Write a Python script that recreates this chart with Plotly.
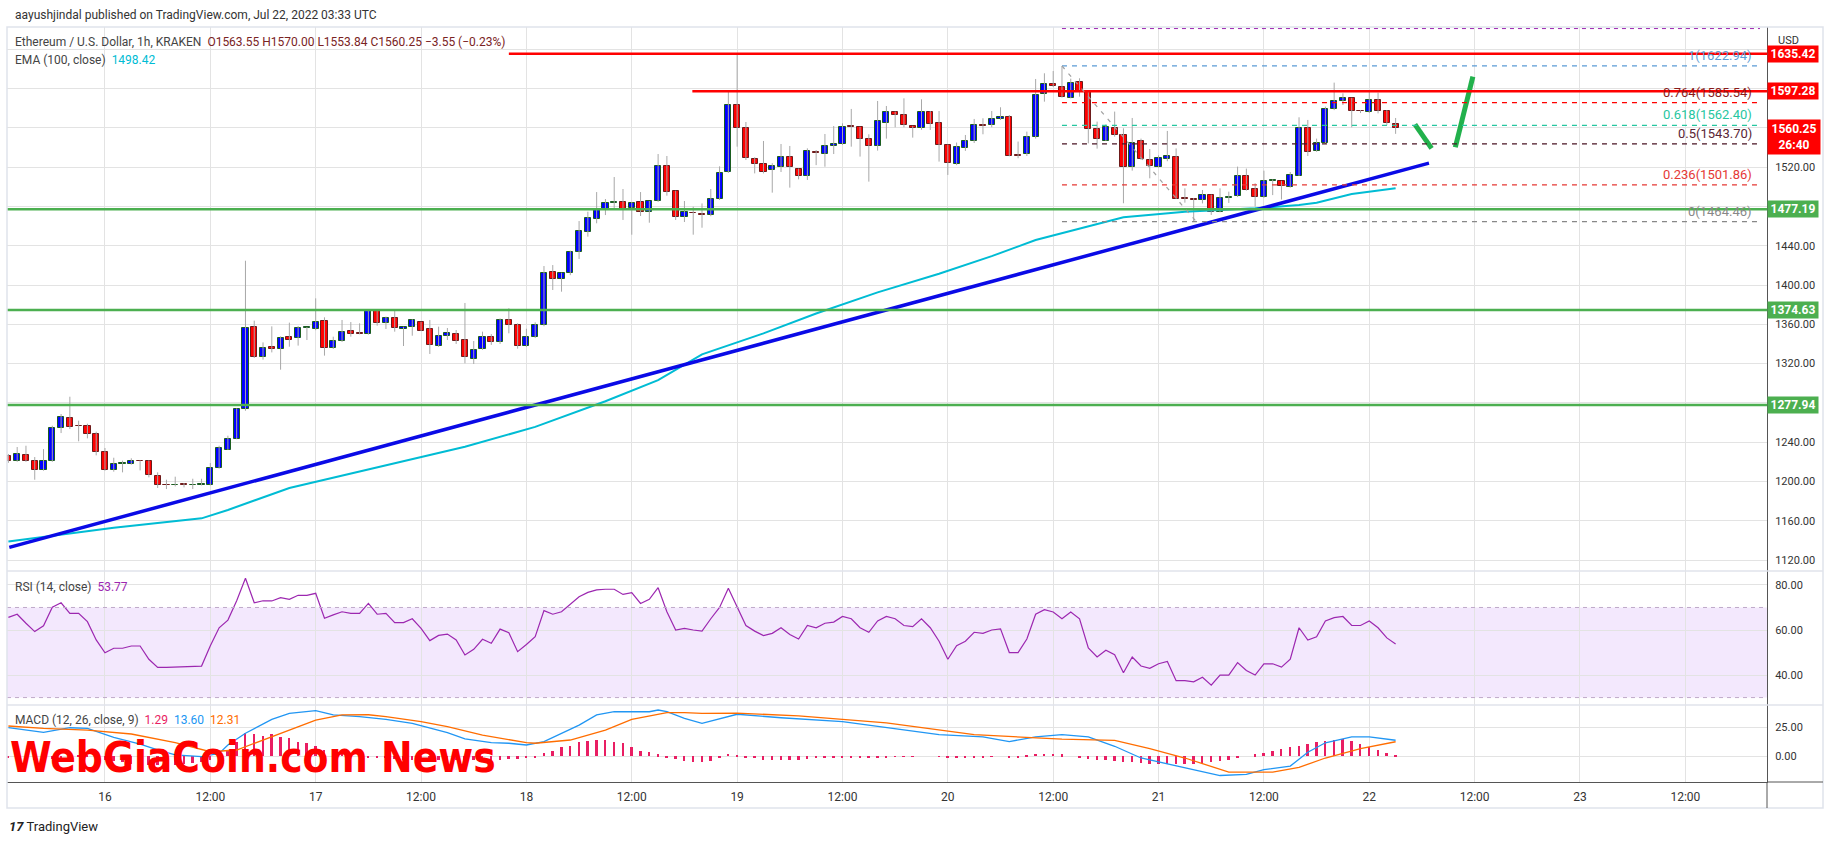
import plotly.graph_objects as go
from plotly.subplots import make_subplots
from datetime import datetime, timedelta

# ETH/USD 1h (Kraken), first visible candle 2022-07-15 13:00 UTC
first_candle = datetime(2022, 7, 15, 13)

opens = [1226.3, 1220.5, 1226.9, 1220.8, 1211.7, 1220.8, 1254.1, 1264.6, 1256.5, 1256.5,
         1248.3, 1230.0, 1211.7, 1217.8, 1217.8, 1220.8, 1220.8, 1205.6, 1196.4, 1196.0,
         1196.6, 1196.0, 1196.2, 1196.1, 1213.7, 1232.4, 1243.2, 1273.8, 1357.2, 1326.7,
         1337.2, 1334.5, 1346.7, 1345.7, 1356.4, 1354.9, 1363.0, 1336.2, 1342.7, 1352.8,
         1350.8, 1349.8, 1373.5, 1361.0, 1366.1, 1355.0, 1357.0, 1362.0, 1354.9, 1337.6,
         1348.4, 1349.8, 1344.0, 1325.0, 1335.0, 1347.1, 1342.3, 1364.4, 1359.3, 1337.6,
         1346.7, 1358.9, 1412.9, 1405.8, 1411.9, 1433.2, 1453.6, 1466.8, 1476.7, 1483.5,
         1484.8, 1478.7, 1484.8, 1474.6, 1485.1, 1520.8, 1495.3, 1468.9, 1473.2, 1472.0,
         1470.9, 1487.2, 1514.7, 1582.9, 1560.1, 1527.9, 1523.5, 1516.7, 1519.8, 1529.9,
         1517.7, 1510.6, 1535.0, 1533.0, 1541.8, 1543.2, 1561.5, 1560.5, 1548.3, 1541.2,
         1564.6, 1575.8, 1572.7, 1561.5, 1559.5, 1575.8, 1564.6, 1542.2, 1522.9, 1539.1,
         1546.3, 1562.3, 1562.5, 1568.7, 1570.7, 1531.5, 1533.0, 1550.3, 1594.1, 1604.3,
         1601.9, 1590.0, 1607.0, 1597.5, 1558.5, 1547.0, 1559.5, 1552.4, 1520.5, 1546.6,
         1527.3, 1520.5, 1528.0, 1530.7, 1488.2, 1487.5, 1486.2, 1491.6, 1474.7, 1489.0,
         1490.3, 1511.0, 1497.4, 1489.3, 1506.0, 1505.5, 1499.4, 1511.3, 1559.5, 1536.4,
         1544.2, 1578.8, 1587.6, 1590.0, 1576.8, 1575.8, 1588.0, 1577.1, 1563.55]
highs = [1228.0, 1235.1, 1236.4, 1224.9, 1233.0, 1256.8, 1268.7, 1286.3, 1261.9, 1258.8,
         1250.7, 1234.1, 1224.2, 1221.2, 1223.6, 1221.5, 1221.5, 1209.3, 1201.8, 1204.9,
         1198.4, 1202.8, 1202.8, 1218.8, 1236.4, 1246.6, 1274.5, 1424.7, 1363.7, 1341.6,
         1357.9, 1347.7, 1361.7, 1358.3, 1357.2, 1386.4, 1367.1, 1347.4, 1364.4, 1362.3,
         1361.0, 1374.0, 1374.0, 1367.8, 1373.5, 1357.5, 1365.1, 1362.5, 1364.4, 1357.6,
         1356.2, 1354.2, 1381.7, 1343.0, 1352.5, 1350.0, 1366.0, 1376.3, 1361.0, 1355.5,
         1362.0, 1419.3, 1420.3, 1412.5, 1435.0, 1465.1, 1474.6, 1494.6, 1487.5, 1509.9,
         1497.7, 1484.5, 1494.6, 1485.5, 1533.3, 1531.3, 1496.0, 1485.5, 1479.7, 1483.0,
         1497.7, 1520.8, 1597.4, 1636.0, 1565.9, 1530.0, 1546.6, 1524.0, 1543.5, 1541.5,
         1518.5, 1539.1, 1537.4, 1553.7, 1561.8, 1564.5, 1579.2, 1561.0, 1553.4, 1587.3,
         1582.2, 1576.5, 1590.0, 1562.0, 1589.0, 1577.1, 1577.1, 1543.0, 1545.0, 1552.7,
         1569.0, 1569.7, 1577.1, 1580.9, 1573.0, 1546.0, 1556.1, 1609.7, 1615.5, 1617.8,
         1622.94, 1610.0, 1610.4, 1598.0, 1566.3, 1563.5, 1576.5, 1559.5, 1570.0, 1549.0,
         1538.4, 1532.0, 1556.8, 1539.0, 1498.4, 1488.5, 1496.7, 1492.0, 1498.4, 1495.0,
         1520.5, 1518.5, 1503.5, 1516.4, 1507.5, 1506.0, 1515.0, 1570.7, 1568.0, 1549.0,
         1581.5, 1606.0, 1595.1, 1590.5, 1578.0, 1596.8, 1595.8, 1578.0, 1570.00]
lows = [1219.0, 1220.0, 1220.0, 1201.8, 1211.0, 1220.0, 1249.3, 1253.4, 1240.9, 1243.9,
        1226.6, 1211.0, 1210.0, 1209.3, 1217.1, 1211.3, 1204.2, 1193.4, 1192.3, 1195.0,
        1194.0, 1192.3, 1196.0, 1196.0, 1213.0, 1232.0, 1243.0, 1272.0, 1325.7, 1324.0,
        1331.4, 1313.8, 1337.2, 1338.3, 1344.0, 1354.0, 1328.1, 1334.9, 1342.0, 1347.4,
        1349.8, 1349.5, 1358.6, 1355.2, 1352.5, 1337.9, 1348.4, 1353.0, 1329.8, 1337.0,
        1344.0, 1340.0, 1320.3, 1319.6, 1334.0, 1339.0, 1340.0, 1350.8, 1335.2, 1337.0,
        1346.0, 1358.0, 1394.9, 1393.2, 1410.0, 1426.5, 1449.2, 1462.8, 1471.2, 1477.0,
        1466.2, 1451.2, 1470.2, 1463.4, 1484.5, 1490.9, 1466.2, 1464.1, 1451.2, 1458.3,
        1470.0, 1486.5, 1514.0, 1540.8, 1527.2, 1513.6, 1513.6, 1494.0, 1515.0, 1499.1,
        1507.5, 1506.9, 1522.0, 1520.4, 1533.3, 1542.5, 1540.8, 1530.7, 1505.2, 1536.8,
        1549.0, 1560.5, 1560.5, 1550.0, 1558.0, 1557.8, 1525.6, 1512.0, 1522.0, 1536.5,
        1544.5, 1553.4, 1560.5, 1568.0, 1531.0, 1529.0, 1531.3, 1549.0, 1586.6, 1601.5,
        1590.7, 1590.0, 1591.7, 1544.2, 1538.8, 1546.5, 1551.0, 1483.2, 1516.4, 1527.5,
        1508.6, 1519.5, 1526.0, 1487.5, 1483.8, 1464.46, 1483.0, 1471.3, 1474.0, 1483.5,
        1489.5, 1496.0, 1479.8, 1488.5, 1491.5, 1487.0, 1499.0, 1511.0, 1531.3, 1535.5,
        1543.5, 1578.0, 1583.2, 1560.5, 1575.0, 1575.0, 1574.7, 1563.0, 1553.84]
closes = [1220.5, 1227.9, 1220.8, 1211.7, 1220.8, 1254.1, 1265.6, 1255.4, 1256.1, 1248.3,
          1230.0, 1211.7, 1217.8, 1218.1, 1220.8, 1220.5, 1206.2, 1196.1, 1196.0, 1196.3,
          1196.3, 1196.3, 1197.1, 1213.7, 1234.1, 1243.2, 1273.8, 1356.2, 1326.7, 1335.8,
          1334.5, 1346.0, 1343.7, 1355.9, 1356.8, 1362.7, 1335.5, 1342.7, 1351.8, 1349.8,
          1350.2, 1373.5, 1361.0, 1366.1, 1355.9, 1357.0, 1364.4, 1353.5, 1339.3, 1347.7,
          1351.1, 1343.3, 1327.1, 1333.8, 1346.7, 1342.3, 1364.0, 1359.6, 1337.6, 1346.7,
          1358.9, 1411.9, 1406.4, 1411.9, 1433.2, 1454.6, 1467.8, 1476.7, 1483.1, 1483.8,
          1477.0, 1483.8, 1474.6, 1485.1, 1520.8, 1495.0, 1469.5, 1473.9, 1472.9, 1471.6,
          1487.2, 1513.6, 1582.9, 1560.1, 1529.6, 1522.8, 1515.3, 1520.8, 1529.9, 1519.8,
          1510.6, 1536.0, 1534.4, 1541.1, 1543.8, 1560.5, 1561.0, 1548.3, 1541.8, 1566.6,
          1575.8, 1572.7, 1562.5, 1559.5, 1575.8, 1563.6, 1542.2, 1523.9, 1540.1, 1546.3,
          1562.5, 1561.9, 1568.7, 1570.7, 1531.7, 1531.3, 1550.3, 1593.1, 1604.3, 1602.2,
          1591.7, 1605.3, 1597.8, 1558.5, 1548.3, 1560.5, 1552.4, 1520.5, 1544.9, 1528.0,
          1521.2, 1529.0, 1531.0, 1487.9, 1487.9, 1486.2, 1491.6, 1474.7, 1488.2, 1489.3,
          1510.6, 1496.7, 1489.3, 1505.5, 1506.2, 1501.1, 1512.0, 1559.5, 1535.7, 1544.2,
          1578.8, 1587.3, 1590.0, 1576.8, 1576.6, 1588.0, 1577.5, 1564.6, 1560.25]
change_text = "−3.55 (−0.23%)"

# EMA 100 read at a few candles (index, value)
ema_idx = [0, 12, 22, 25, 32, 39, 52, 60, 68, 74, 79, 86, 92, 99, 106, 112, 117,
           127, 134, 142, 147, 149, 153, 158]
ema_vals = [1139.0, 1153.0, 1162.5, 1171.0, 1193.4, 1208.0, 1235.3, 1255.6, 1281.7,
            1303.2, 1329.4, 1350.8, 1371.0, 1392.5, 1411.5, 1429.4, 1445.8, 1469.0,
            1474.6, 1478.0, 1481.4, 1483.8, 1492.6, 1498.42]

# RSI 14, one value per candle
rsi_vals = [65.6, 67.0, 63.0, 59.3, 61.9, 70.1, 72.1, 67.4, 67.4, 63.7,
            55.6, 49.9, 51.9, 51.9, 52.9, 52.9, 47.0, 43.4, 43.4, 43.6,
            43.6, 43.8, 44.0, 53.0, 61.0, 64.4, 73.0, 83.0, 72.1, 73.0,
            72.9, 74.4, 73.6, 75.4, 75.4, 76.3, 65.2, 66.7, 68.1, 67.4,
            67.4, 71.8, 67.0, 67.4, 63.3, 63.3, 65.0, 60.7, 55.3, 57.6,
            58.2, 55.6, 48.9, 51.4, 55.9, 54.1, 60.4, 58.8, 50.4, 53.6,
            57.0, 68.6, 67.0, 68.1, 71.4, 74.8, 76.7, 77.8, 78.1, 78.1,
            75.8, 76.6, 71.8, 73.6, 78.8, 68.1, 60.0, 60.7, 60.0, 59.5,
            65.0, 70.0, 78.5, 70.0, 62.0, 59.5, 57.5, 58.5, 61.0, 58.0,
            56.0, 62.0, 61.0, 63.0, 63.5, 66.0, 65.0, 61.0, 59.0, 64.0,
            66.0, 65.0, 62.0, 61.5, 65.0, 61.0, 55.0, 47.0, 53.0, 55.0,
            59.0, 58.5, 60.0, 60.5, 50.0, 50.0, 56.0, 67.0, 69.0, 68.0,
            65.0, 68.0, 65.0, 52.0, 48.0, 51.0, 49.0, 41.0, 48.0, 44.0,
            43.0, 45.0, 46.0, 37.5, 37.5, 37.0, 39.0, 35.5, 40.0, 40.0,
            45.5, 42.0, 40.0, 45.0, 45.0, 43.5, 47.0, 61.0, 55.5, 57.0,
            64.0, 65.5, 66.0, 62.0, 62.0, 64.0, 61.0, 56.5, 53.77]

# MACD (12, 26, 9) lines read at a few candles
macd_idx = [0, 4, 7, 9, 12, 15, 17, 19, 22, 24, 25, 27, 30, 32, 35, 37, 40, 43, 46, 48,
            50, 52, 55, 57, 59, 61, 63, 65, 67, 69, 71, 73, 74, 75, 77, 79, 83, 88, 95,
            100, 106, 111, 114, 117, 120, 123, 126, 129, 133, 136, 138, 141, 143, 146,
            148, 150, 153, 155, 158]
macd_vals = [24.4, 20.4, 24.4, 23.9, 16.1, 10.3, 5.2, 0.9, -0.6, 2.3, 9.5, 19.6, 31.6,
             36.8, 39.1, 35.4, 33.9, 31.6, 28.2, 23.9, 20.1, 14.7, 11.5, 11.0, 9.5, 12.4,
             19.6, 26.7, 35.4, 38.2, 38.2, 38.2, 39.7, 38.2, 32.5, 28.1, 36.0, 33.0, 29.6,
             24.5, 18.5, 16.5, 12.5, 16.5, 18.5, 16.5, 8.4, -1.7, -8.7, -13.8, -16.8,
             -15.8, -11.8, -8.7, 3.3, 11.4, 16.5, 16.5, 13.60]
signal_idx = [0, 4, 9, 14, 19, 23, 26, 30, 35, 38, 41, 43, 47, 50, 54, 59, 60, 64, 68,
              71, 75, 77, 79, 83, 90, 100, 110, 120, 126, 130, 134, 139, 144, 147, 150,
              154, 158]
signal_vals = [25.9, 23.9, 22.4, 19.0, 11.5, 3.7, 5.2, 16.7, 31.0, 35.4, 35.6, 33.9, 29.6,
               25.3, 18.1, 11.5, 11.0, 13.8, 22.4, 31.6, 37.4, 37.4, 36.8, 37.0, 34.6,
               28.6, 18.5, 14.5, 13.5, 6.4, -1.7, -13.8, -13.8, -9.8, -1.7, 6.4, 12.31]
hist_vals = [-1.5, -2, -2.5, -3, -3.5, -2.5, -1, 0.5, 1, 0.5, -1.5, -3,
             -4.5, -5.5, -6.5, -7, -7.5, -8, -8, -7.5, -7, -6, -5, -3.5, -1.5,
             5, 12, 19.5, 18.7, 17.5, 19, 16.7, 15.2, 12.4, 11, 8.6,
             5, 3, 2, 1, 0,
             -1, -1.5, -2, -2.5, -3, -3, -3.5, -3.5, -3.5, -3.5, -3.5, -3.5, -3, -3, -3, -3,
             -2.5, -2.5, -2, -1,
             2.3, 4.6, 7.5, 8.6, 12.4, 13.2, 13.8, 13.8, 12.4, 11.5, 8, 4.6, 3.2, 1.7,
             -1.1, -2.9, -4.6, -5.5,
             -5, -4, -2, 2, 1, -1, -2, -3, -3.5, -3, -3, -3,
             -2.5, -2, -2, -1.5, -1, -1, -1.5, -2, -1.5, -1, -0.5, -0.5, -0.5, 0, 0, -0.5,
             -1.5, -2, -2, -1.5, -1, -0.5, 0, -1, -1, 1, 2, 2, 2, 1.5, 0, -1.5, -2.5, -3, -3.5,
             -4, -5, -5.5, -6, -6.5, -6.5, -6.5, -7, -7, -6.5, -6, -5.5, -4.5, -3, -1.5,
             0, 1.5, 3, 4.5, 6, 7.5, 9, 10.5, 12, 13, 14, 14.5, 13, 10.5, 8, 5.5, 3, 1.29]

# drawn levels
support_levels = [1477.19, 1374.63, 1277.94]
resistance_levels = [1635.42, 1597.28]
resistance_start = [57, 77.9]            # candle index where each line starts
fib_ratios = ["1", "0.764", "0.618", "0.5", "0.236", "0"]
fib_prices = [1622.94, 1585.54, 1562.40, 1543.70, 1501.86, 1464.46]
fib_colors = ["#5b9bd5", "#ff0000", "#26c6a0", "#4a1525", "#e53935", "#888888"]
fib_text_colors = ["#5b9bd5", "#8b1a1a", "#26c6a0", "#5a2535", "#e53935", "#888888"]
fib_start, fib_end = 120, 199.5
trend_pts = [(0.1, 1133.0), (161.8, 1524.0)]
arrow_down = [(160.2, 1563.5), (162.1, 1539.1)]
arrow_up = [(164.8, 1540.2), (166.8, 1612.0)]

day_ticks = ["16", "12:00", "17", "12:00", "18", "12:00", "19", "12:00", "20", "12:00",
             "21", "12:00", "22", "12:00", "23", "12:00"]
price_ticks = [1120, 1160, 1200, 1240, 1280, 1320, 1360, 1400, 1440, 1480, 1520, 1560, 1600, 1640]
hidden_price_ticks = [1280, 1480, 1560, 1600, 1640]   # covered by price badges


def at(k):
    return first_candle + timedelta(hours=k)


FONT = "Roboto"
times = [at(k) for k in range(len(opens))]

fig = make_subplots(rows=3, cols=1, shared_xaxes=True, vertical_spacing=0,
                    row_heights=[544, 134, 77])

# wicks
wx, wy = [], []
for t, h, l in zip(times, highs, lows):
    wx += [t, t, None]
    wy += [l, h, None]
fig.add_trace(go.Scatter(x=wx, y=wy, mode="lines", line=dict(color="#a8a8a8", width=1),
                         hoverinfo="skip"), row=1, col=1)

# bodies
up = [c >= o for o, c in zip(opens, closes)]
fig.add_trace(go.Bar(
    x=times,
    base=[min(o, c) for o, c in zip(opens, closes)],
    y=[max(abs(c - o), 0.8) for o, c in zip(opens, closes)],
    width=3600000 * 0.7,
    marker=dict(color=["#0000ff" if u else "#ff0000" for u in up],
                line=dict(color=["#1b5e20" if u else "#6d1b1b" for u in up], width=1)),
), row=1, col=1)

# EMA 100
fig.add_trace(go.Scatter(x=[at(k) for k in ema_idx], y=ema_vals, mode="lines",
                         line=dict(color="#00bcd4", width=2)), row=1, col=1)

# trendline
fig.add_trace(go.Scatter(x=[at(p[0]) for p in trend_pts], y=[p[1] for p in trend_pts],
                         mode="lines", line=dict(color="#0a0ae6", width=3.5)), row=1, col=1)

# expected move
for seg in (arrow_down, arrow_up):
    fig.add_trace(go.Scatter(x=[at(p[0]) for p in seg], y=[p[1] for p in seg], mode="lines",
                             line=dict(color="#22b14c", width=5)), row=1, col=1)

# RSI
fig.add_trace(go.Scatter(x=times[:len(rsi_vals)], y=rsi_vals, mode="lines",
                         line=dict(color="#9c27b0", width=1.2)), row=2, col=1)

# MACD
fig.add_trace(go.Bar(x=times[:len(hist_vals)], y=hist_vals, width=3600000 * 0.22,
                     marker=dict(color="#e91e63", line=dict(width=0))), row=3, col=1)
fig.add_trace(go.Scatter(x=[at(k) for k in macd_idx], y=macd_vals, mode="lines",
                         line=dict(color="#2196f3", width=1.3)), row=3, col=1)
fig.add_trace(go.Scatter(x=[at(k) for k in signal_idx], y=signal_vals, mode="lines",
                         line=dict(color="#ff6d00", width=1.3)), row=3, col=1)

shapes = []
# RSI band
shapes.append(dict(type="rect", xref="x2 domain", yref="y2", x0=0, x1=1, y0=30, y1=70,
                   fillcolor="#f3e8fd", line=dict(width=0), layer="below"))
for lv in (70, 30):
    shapes.append(dict(type="line", xref="x2 domain", yref="y2", x0=0, x1=1, y0=lv, y1=lv,
                       line=dict(color="#bfa9c9", width=1, dash="4px,4px")))
# support / resistance
for lv in support_levels:
    shapes.append(dict(type="line", xref="x domain", yref="y", x0=0, x1=1, y0=lv, y1=lv,
                       line=dict(color="#4caf50", width=2.5)))
for lv, k0 in zip(resistance_levels, resistance_start):
    shapes.append(dict(type="line", xref="x", yref="y", x0=at(k0), x1=at(201), y0=lv, y1=lv,
                       line=dict(color="#ff0000", width=2.5)))
# fib retracement
shapes.append(dict(type="line", xref="x", yref="y", x0=at(fib_start), x1=at(fib_end),
                   y0=1661, y1=1661, line=dict(color="#9c27b0", width=1, dash="4px,4px")))
for p, c in zip(fib_prices, fib_colors):
    shapes.append(dict(type="line", xref="x", yref="y", x0=at(fib_start), x1=at(fib_end),
                       y0=p, y1=p, line=dict(color=c, width=1.2, dash="5px,5px")))
shapes.append(dict(type="line", xref="x", yref="y", x0=at(fib_start), x1=at(135.3),
                   y0=fib_prices[0], y1=fib_prices[-1],
                   line=dict(color="#a0a0a0", width=1.2, dash="4px,6px")))

# pane frame
frame = "#e0e3eb"
right = 1816 / 1760.0
bottom = -26 / 755.0
shapes.append(dict(type="rect", xref="paper", yref="paper", x0=0, x1=right, y0=bottom, y1=1,
                   line=dict(color=frame, width=1.5)))
for yy in (211 / 755.0, 77 / 755.0):
    shapes.append(dict(type="line", xref="paper", yref="paper", x0=0, x1=right, y0=yy, y1=yy,
                       line=dict(color=frame, width=1.5)))
shapes.append(dict(type="line", xref="paper", yref="paper", x0=1, x1=1, y0=bottom, y1=0,
                   line=dict(color="#555555", width=1)))
shapes.append(dict(type="line", xref="paper", yref="paper", x0=1, x1=right, y0=0, y1=0,
                   line=dict(color="#555555", width=1)))

ann = []
# price badges
for lv in support_levels:
    ann.append(dict(xref="paper", yref="y", x=1, y=lv, xanchor="left", text=f"<b>{lv:.2f}</b>",
                    bgcolor="#4caf50", font=dict(color="white", size=12, family=FONT),
                    showarrow=False, width=48, height=14, borderpad=1))
for lv in resistance_levels:
    ann.append(dict(xref="paper", yref="y", x=1, y=lv, xanchor="left", text=f"<b>{lv:.2f}</b>",
                    bgcolor="#ff0000", font=dict(color="white", size=12, family=FONT),
                    showarrow=False, width=48, height=14, borderpad=1))
ann.append(dict(xref="paper", yref="y", x=1, y=closes[-1], xanchor="left", yanchor="top",
                yshift=9, text=f"<b>{closes[-1]:.2f}<br>26:40</b>", bgcolor="#ff0000",
                font=dict(color="white", size=12, family=FONT), showarrow=False,
                width=48, borderpad=2))
# fib labels
for r, p, c in zip(fib_ratios, fib_prices, fib_text_colors):
    ann.append(dict(xref="paper", yref="y", x=1747 / 1760.0, y=p, xanchor="right",
                    yanchor="bottom", yshift=1, text=f"{r}({p:.2f})", showarrow=False,
                    font=dict(color=c, size=13, family=FONT)))

# legends
ann.append(dict(xref="paper", yref="paper", x=0, y=1, xshift=6, yshift=12, xanchor="left",
                yanchor="middle", showarrow=False,
                text="aayushjindal published on TradingView.com, Jul 22, 2022 03:33 UTC",
                font=dict(color="#333333", size=12, family=FONT)))
ohlc = (f"O{opens[-1]:.2f} H{highs[-1]:.2f} L{lows[-1]:.2f} C{closes[-1]:.2f} {change_text}")
ann.append(dict(xref="paper", yref="paper", x=0, y=1, xshift=6, yshift=-15, xanchor="left",
                yanchor="middle", showarrow=False,
                text=f"Ethereum / U.S. Dollar, 1h, KRAKEN  <span style='color:#7a2323'>{ohlc}</span>",
                font=dict(color="#444444", size=12, family=FONT)))
ann.append(dict(xref="paper", yref="paper", x=0, y=1, xshift=6, yshift=-33, xanchor="left",
                yanchor="middle", showarrow=False,
                text=f"EMA (100, close)  <span style='color:#00bcd4'>{ema_vals[-1]:.2f}</span>",
                font=dict(color="#444444", size=12, family=FONT)))
ann.append(dict(xref="paper", yref="y2 domain", x=0, y=1, xshift=6, yshift=-16,
                xanchor="left", yanchor="middle", showarrow=False,
                text=f"RSI (14, close)  <span style='color:#9c27b0'>{rsi_vals[-1]:.2f}</span>",
                font=dict(color="#444444", size=12, family=FONT)))
ann.append(dict(xref="paper", yref="y3 domain", x=0, y=1, xshift=6, yshift=-15,
                xanchor="left", yanchor="middle", showarrow=False,
                text=(f"MACD (12, 26, close, 9)  <span style='color:#e91e63'>{hist_vals[-1]:.2f}</span>"
                      f"  <span style='color:#2196f3'>{macd_vals[-1]:.2f}</span>"
                      f"  <span style='color:#ff6d00'>{signal_vals[-1]:.2f}</span>"),
                font=dict(color="#444444", size=12, family=FONT)))
ann.append(dict(xref="paper", yref="paper", x=1, y=1, xshift=9, yshift=-13, xanchor="left",
                yanchor="middle", showarrow=False, text="USD",
                font=dict(color="#333333", size=11, family=FONT)))
# watermark
ann.append(dict(xref="paper", yref="paper", x=0, y=0, xshift=1, yshift=25, xanchor="left",
                yanchor="middle", showarrow=False, text="<b>WebGiaCoin.com News</b>",
                font=dict(color="#ff0000", size=42,
                          family="Liberation Sans Narrow, Arial Narrow, DejaVu Sans Condensed, DejaVu Sans, sans-serif")))
ann.append(dict(xref="paper", yref="paper", x=0, y=0, xshift=0, yshift=-44, xanchor="left",
                yanchor="middle", showarrow=False,
                text="<b><i>17</i></b> TradingView",
                font=dict(color="#222222", size=13, family=FONT)))

fig.update_layout(
    width=1834, height=845, autosize=False,
    margin=dict(l=7, r=67, t=27, b=63),
    paper_bgcolor="white", plot_bgcolor="white",
    showlegend=False, bargap=0, barmode="overlay",
    shapes=shapes, annotations=ann,
    font=dict(family=FONT, color="#333333"),
)

tickpos = [at(11 + 12 * i) for i in range(len(day_ticks))]
for i in (1, 2, 3):
    fig.update_xaxes(row=i, col=1, type="date", range=[at(-0.16), at(200.3)],
                     tickvals=tickpos, ticktext=day_ticks, showgrid=True, gridcolor="#e3e3e3",
                     zeroline=False, ticks="", showticklabels=(i == 3), ticklabelstandoff=4,
                     tickfont=dict(size=12, color="#333333", family=FONT))
fig.update_xaxes(row=3, col=1, showline=True, linecolor="#555555", linewidth=1)

ax = dict(side="right", showline=True, linecolor="#555555", linewidth=1, ticks="",
          gridcolor="#e3e3e3", zeroline=False, ticklabelstandoff=5,
          tickfont=dict(size=11, color="#333333", family=FONT))
fig.update_yaxes(row=1, col=1, range=[1108.9, 1662.6], tickvals=price_ticks,
                 ticktext=["" if v in hidden_price_ticks else f"{v:.2f}" for v in price_ticks], **ax)
fig.update_yaxes(row=2, col=1, range=[26.7, 86.2], tickvals=[40, 60, 80],
                 ticktext=["40.00", "60.00", "80.00"], **ax)
fig.update_yaxes(row=3, col=1, range=[-22.4, 44.0], tickvals=[0, 25],
                 ticktext=["0.00", "25.00"], **ax)

fig.write_html("out.html", config={"displayModeBar": False},
               post_script="document.body.style.margin='0';")
